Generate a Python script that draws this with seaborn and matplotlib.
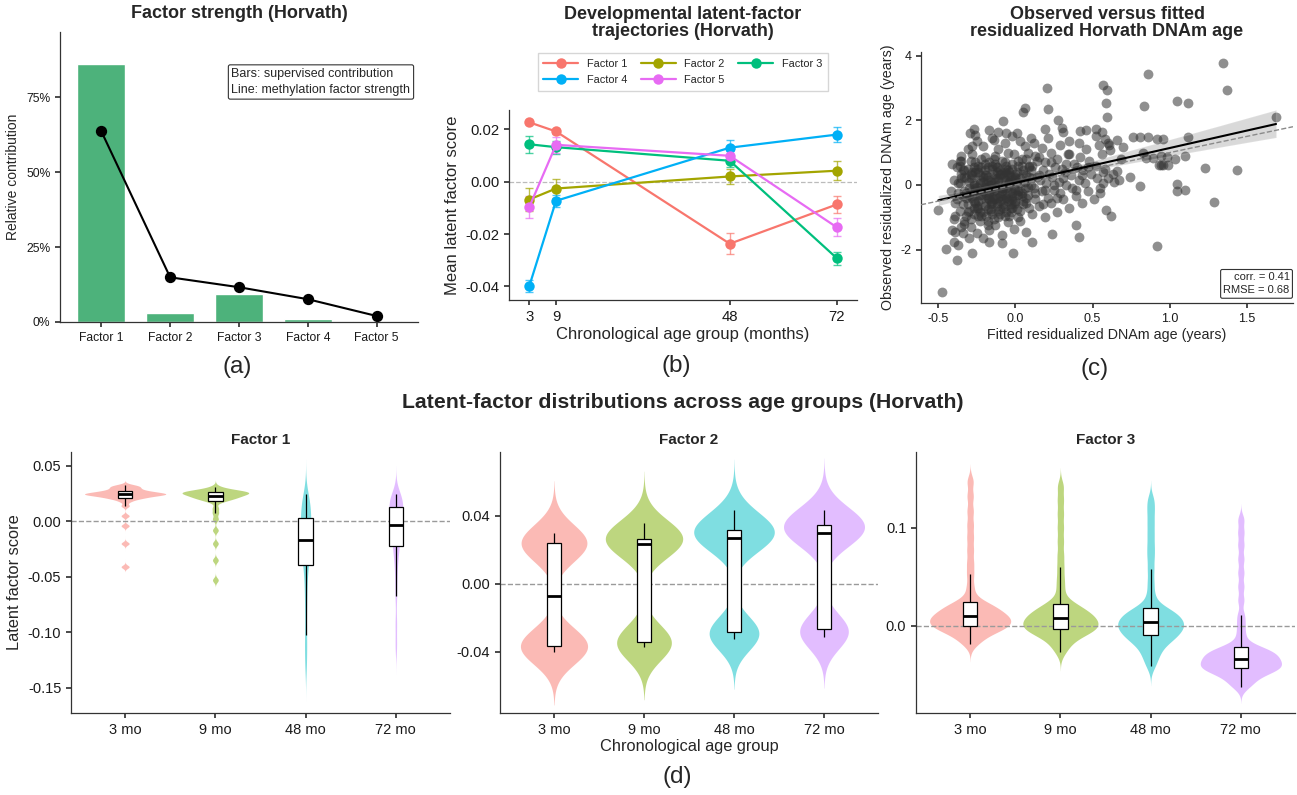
import numpy as np
import pandas as pd
import matplotlib
matplotlib.use("Agg")
import matplotlib.pyplot as plt
from matplotlib.ticker import PercentFormatter, FormatStrFormatter
import seaborn as sns

# ── data ────────────────────────────────────────────────────────────
factor_names = ["Factor 1", "Factor 2", "Factor 3", "Factor 4", "Factor 5"]
supervised_contrib = [0.860, 0.030, 0.093, 0.011, 0.003]   # bars
factor_strength = [0.636, 0.149, 0.116, 0.076, 0.020]       # line

ages = [3, 9, 48, 72]
traj_mean = {
    "Factor 1": [0.0227, 0.0192, -0.0237, -0.0087],
    "Factor 2": [-0.0068, -0.0026, 0.0020, 0.0042],
    "Factor 3": [0.0143, 0.0132, 0.0080, -0.0292],
    "Factor 4": [-0.0399, -0.0073, 0.0130, 0.0180],
    "Factor 5": [-0.0097, 0.0141, 0.0099, -0.0174],
}
traj_se = {
    "Factor 1": [0.0006, 0.0009, 0.0041, 0.0031],
    "Factor 2": [0.0044, 0.0035, 0.0029, 0.0036],
    "Factor 3": [0.0032, 0.0025, 0.0025, 0.0025],
    "Factor 4": [0.0024, 0.0022, 0.0030, 0.0029],
    "Factor 5": [0.0041, 0.0030, 0.0020, 0.0035],
}

# observed vs fitted residualized DNAm age
fitted = [
    -0.475, -0.50, -0.38, -0.447, -0.28, -0.016, 0.11, 0.24, 0.41, 0.39,
    0.205, 0.211, 0.06, 0.05, -0.08, 0.276, 0.567, 0.593, 0.589, 0.593,
    0.859, 1.345, 1.37, 0.837, 1.049, 1.122, 1.69, 0.56, 0.578, 0.658,
    0.70, 0.762, 0.805, 0.863, 0.917, 0.956, 1.118, 0.615, 0.687, 0.826,
    0.848, 0.891, 0.941, 0.941, 0.989, 1.038, 1.097, 1.232, 1.435, 0.58,
    0.63, 0.66, 0.60, 0.67, 0.74, 0.57, 0.64, 0.805, 1.049, 1.097,
    1.049, 0.589, 0.621, 1.29, 0.917, 0.547, 0.93, 0.96, 0.98, 0.60,
    -0.296, -0.27, -0.17, -0.11, -0.14, -0.06, -0.02, 0.03, 0.30, 0.31,
    0.19, 0.42, 0.46, 0.52, 0.52, -0.28, -0.35, -0.36, -0.35, 0.61,
    -0.41, -0.40, -0.39, -0.42, -0.40, -0.38, -0.41, -0.39, -0.40,
    -0.37, -0.35, -0.36, -0.34, -0.37, -0.35, -0.36, -0.34,
    -0.33, -0.31, -0.32, -0.30, -0.33, -0.31, -0.32, -0.30, -0.33,
    -0.29, -0.27, -0.28, -0.26, -0.29, -0.27, -0.28, -0.26, -0.29, -0.27,
    -0.25, -0.23, -0.24, -0.22, -0.25, -0.23, -0.24, -0.22, -0.25, -0.23, -0.24,
    -0.21, -0.19, -0.20, -0.18, -0.21, -0.19, -0.20, -0.18, -0.21, -0.19, -0.20, -0.18,
    -0.17, -0.15, -0.16, -0.14, -0.17, -0.15, -0.16, -0.14, -0.17, -0.15, -0.16, -0.14, -0.17,
    -0.13, -0.11, -0.12, -0.10, -0.13, -0.11, -0.12, -0.10, -0.13, -0.11, -0.12, -0.10, -0.13,
    -0.09, -0.07, -0.08, -0.06, -0.09, -0.07, -0.08, -0.06, -0.09, -0.07, -0.08, -0.06, -0.09,
    -0.05, -0.03, -0.04, -0.02, -0.05, -0.03, -0.04, -0.02, -0.05, -0.03, -0.04,
    -0.01, 0.01, 0.00, 0.02, -0.01, 0.01, 0.00, 0.02, -0.01, 0.01, 0.00,
    0.03, 0.05, 0.04, 0.06, 0.03, 0.05, 0.04, 0.06, 0.03,
    0.07, 0.09, 0.08, 0.10, 0.07, 0.09, 0.08, 0.10, 0.07,
    0.11, 0.13, 0.12, 0.14, 0.11, 0.13, 0.12,
    0.15, 0.17, 0.16, 0.18, 0.15, 0.17,
    0.19, 0.21, 0.20, 0.22, 0.19, 0.21,
    0.23, 0.25, 0.24, 0.26, 0.23,
    0.27, 0.29, 0.28, 0.30, 0.27, 0.29,
    0.31, 0.33, 0.32, 0.34,
    0.35, 0.37, 0.36, 0.38, 0.35,
    0.39, 0.41, 0.40, 0.42,
    0.43, 0.45, 0.44, 0.46,
    0.47, 0.49, 0.48,
    0.51, 0.53, 0.52, 0.54,
    0.55, 0.57, 0.56,
    -0.30, -0.26, -0.22, -0.18, -0.14, -0.10, -0.06, -0.02, 0.02,
    -0.28, -0.24, -0.20, -0.16, -0.12, -0.08, -0.04, 0.00,
    -0.30, -0.26, -0.22, -0.18, -0.14, -0.10, -0.06, -0.02,
    -0.27, -0.23, -0.19, -0.15, -0.11, -0.07, -0.03,
    -0.25, -0.21, -0.17, -0.13, -0.09, -0.05,
    -0.33, -0.29, -0.25, -0.21, -0.17, -0.13, -0.09, -0.05, -0.01, 0.03, 0.07, 0.11,
    -0.31, -0.27, -0.23, -0.19, -0.15, -0.11, -0.07, -0.03, 0.01, 0.05, 0.09, 0.13,
    -0.34, -0.30, -0.26, -0.22, -0.18, -0.14, -0.10, -0.06, -0.02, 0.02, 0.06, 0.10,
    -0.32, -0.28, -0.24, -0.20, -0.16, -0.12, -0.08, -0.04, 0.00, 0.04, 0.15, 0.19,
    0.23, 0.27, 0.31, 0.35, 0.39, 0.43, 0.47, 0.25, 0.33, 0.41, 0.18, 0.14,
    -0.38, -0.35, -0.31, -0.27, -0.23, -0.19, -0.15, -0.11, -0.07, -0.03, 0.01, 0.05,
    -0.36, -0.32, -0.28, -0.24, -0.20, -0.16, -0.12, -0.08, -0.04, 0.00, 0.04, 0.08,
    -0.39, -0.34, -0.29, -0.25, -0.21, -0.17, -0.13, -0.09, -0.05, -0.01, 0.03, 0.07,
    -0.37, -0.33, -0.29, -0.26, -0.22, -0.18, -0.14, -0.10, -0.06, -0.02, 0.02, 0.09,
]
observed = [
    -3.31, -0.76, -2.33, -1.98, -2.10, -2.10, -1.77, -1.53, -1.60, -1.25,
    2.99, 2.35, 2.38, 2.24, 1.98, 2.02, 3.10, 2.92, 2.53, 2.09,
    3.43, 3.78, 2.94, 2.45, 2.58, 2.53, 2.10, 1.65, 1.42, 1.38,
    1.17, 1.47, 1.47, 1.47, 1.42, 1.42, 1.47, 1.07, 0.80, 0.99,
    0.83, 0.83, 0.88, 0.63, 0.63, 0.80, 0.90, 0.52, 0.45, 0.50,
    0.35, 0.42, 0.20, 0.15, 0.25, 0.05, 0.10, -0.02, 0.03, -0.15,
    -0.20, -0.76, -0.97, -0.54, -1.90, -0.25, 0.62, 0.62, 0.85, 1.30,
    1.62, 1.73, 1.70, 1.65, 1.40, 1.60, 1.50, 1.35, 1.76, 1.65,
    1.72, 1.66, 1.70, 1.72, 1.50, 1.20, 0.75, 0.60, 0.90, 1.25,
    -1.40, -1.05, -0.55, -0.20, 0.15, 0.55, 0.65, -1.45, -1.75,
    -1.85, -1.30, -0.80, -0.35, 0.05, 0.35, 0.75, -1.50,
    -1.20, -0.60, -0.25, 0.10, 0.45, 1.10, -0.95, -1.65, 0.25,
    -1.05, -0.70, -0.40, -0.10, 0.20, 0.55, 0.95, 1.55, -1.30, 0.00,
    -1.50, -0.85, -0.50, -0.30, -0.05, 0.15, 0.40, 0.80, 1.35, -1.10, 0.60,
    -1.65, -0.95, -0.65, -0.40, -0.20, 0.05, 0.30, 0.55, 1.20, -0.10, 0.85, -1.25,
    -1.40, -0.90, -0.60, -0.45, -0.25, -0.10, 0.10, 0.35, 0.70, 1.45, -0.75, 0.20, -1.75,
    -1.25, -0.80, -0.55, -0.35, -0.15, 0.00, 0.20, 0.45, 0.90, 1.10, -0.65, 0.30, -0.05,
    -1.55, -0.95, -0.60, -0.40, -0.20, 0.05, 0.25, 0.50, 0.75, 1.30, -0.30, 0.15, -1.80,
    -1.15, -0.70, -0.45, -0.25, -0.05, 0.15, 0.40, 0.65, 1.00, -0.85, 0.30,
    -1.35, -0.75, -0.50, -0.30, -0.10, 0.10, 0.35, 0.60, 0.95, 1.60, -0.15,
    -1.10, -0.60, -0.35, -0.10, 0.20, 0.45, 0.80, 1.20, -0.80,
    -1.45, -0.70, -0.30, 0.00, 0.30, 0.55, 1.00, 1.45, -0.55,
    -0.90, -0.45, -0.10, 0.25, 0.60, 0.90, 1.30,
    -0.65, -0.20, 0.15, 0.45, 0.85, 1.15,
    -1.00, -0.40, 0.05, 0.35, 0.70, 1.45,
    -0.55, -0.15, 0.25, 0.55, 1.00,
    -0.85, -0.25, 0.10, 0.50, 0.80, 1.25,
    -0.45, 0.00, 0.40, 0.95,
    -0.70, -0.10, 0.30, 0.65, 1.35,
    -0.35, 0.15, 0.55, 0.85,
    -0.55, 0.05, 0.45, 1.10,
    -0.20, 0.35, 0.75,
    -0.45, 0.20, 0.60, 1.25,
    -0.10, 0.40, 0.95,
    -0.30, -0.55, -0.15, -0.75, -0.35, -0.50, -0.10, -0.45, -0.20,
    0.30, -0.20, 0.45, 0.00, 0.55, -0.70, 0.05, 0.20,
    -0.80, 0.40, -0.95, 0.15, -1.05, 0.35, -0.85, 0.50,
    -0.50, 0.05, -0.55, 0.60, -0.40, 0.40, -0.60,
    -0.70, 0.25, -0.30, 0.10, -0.10, -0.35,
    -0.20, 0.35, -0.65, 0.10, -0.45, 0.65, -0.25, 0.45, -0.60, 0.05, -0.40, 0.20,
    0.50, -0.90, 0.30, -0.30, 0.50, -1.00, 0.70, -0.15, 0.40, -0.50, 0.60, -0.25,
    -0.60, -0.10, 0.70, -0.45, 0.25, -0.20, -0.75, 0.35, -0.35, 0.75, 0.10, 0.45,
    0.20, -0.35, -0.95, 0.65, -0.80, 0.40, -0.45, -0.95, 0.25, -0.25, 0.30, -0.15,
    0.70, -0.40, 0.20, 0.95, -0.15, 0.30, 0.55, 0.00, 0.65, 1.30, -0.60, 0.75,
    -0.45, 0.20, -0.85, 0.05, -0.30, 0.30, -0.55, 0.15, -0.65, 0.25, -0.30, 0.35,
    0.05, -0.40, 0.40, -0.70, -0.05, -0.50, 0.55, -0.10, 0.10, -0.55, 0.60, -0.05,
    -0.95, 0.45, -0.20, 0.50, -0.85, 0.00, -0.40, 0.35, -0.50, 0.15, -0.20, 0.80,
    -0.25, -1.10, 0.75, -0.15, 0.55, -1.10, 0.80, -0.90, 0.60, -0.70, -1.00, 0.25,
]

# latent-factor scores per age group (approximate samples read from violins/boxes)
age_groups = ["3 mo", "9 mo", "48 mo", "72 mo"]
f1_3mo = [-0.041, -0.020, -0.004, 0.005, 0.014, 0.018, 0.020, 0.021, 0.0215, 0.022,
          0.023, 0.0235, 0.024, 0.024, 0.0243, 0.0245, 0.025, 0.025, 0.0255, 0.026,
          0.026, 0.027, 0.0273, 0.028, 0.029, 0.030, 0.031, 0.032, 0.0325]
f1_9mo = [-0.053, -0.035, -0.020, -0.008, 0.002, 0.0075, 0.012, 0.018, 0.019, 0.020,
          0.021, 0.0215, 0.022, 0.0225, 0.0228, 0.024, 0.0245, 0.025, 0.025, 0.0255,
          0.026, 0.0264, 0.0265, 0.027, 0.027, 0.0275, 0.028, 0.029, 0.031]
f1_48mo = [-0.130, -0.115, -0.103, -0.085, -0.070, -0.058, -0.048, -0.0396, -0.036, -0.032,
           -0.028, -0.024, -0.021, -0.019, -0.0165, -0.014, -0.011, -0.008, -0.005, -0.002,
           0.001, 0.0033, 0.006, 0.009, 0.012, 0.015, 0.018, 0.021, 0.0243]
f1_72mo = [-0.112, -0.092, -0.0673, -0.052, -0.040, -0.032, -0.026, -0.0222, -0.018, -0.014,
           -0.010, -0.007, -0.005, -0.004, -0.003, -0.001, 0.001, 0.003, 0.005, 0.007,
           0.009, 0.0129, 0.015, 0.017, 0.019, 0.020, 0.021, 0.022, 0.0243]

f2_3mo = [-0.0404, -0.040, -0.039, -0.038, -0.037, -0.037, -0.036, -0.035, -0.034, -0.032,
          0.018, 0.020, 0.022, 0.023, 0.0237, 0.024, 0.025, 0.026, 0.028, 0.0296]
f2_9mo = [-0.0376, -0.037, -0.036, -0.035, -0.0345, -0.034, -0.033, -0.031,
          0.019, 0.0225, 0.0237, 0.024, 0.025, 0.026, 0.0265, 0.027, 0.028, 0.030, 0.032, 0.0355]
f2_48mo = [-0.0325, -0.031, -0.030, -0.029, -0.0288, -0.028, -0.026,
           0.021, 0.024, 0.0265, 0.027, 0.028, 0.029, 0.030, 0.0315, 0.032, 0.034, 0.036, 0.039, 0.0437]
f2_72mo = [-0.0312, -0.030, -0.029, -0.028, -0.0275, -0.0265, -0.025,
           0.024, 0.027, 0.0295, 0.0305, 0.031, 0.032, 0.033, 0.0345, 0.035, 0.037, 0.039, 0.041, 0.0437]

f3_3mo = [-0.019, -0.015, -0.012, -0.009, -0.007, -0.005, -0.004, -0.003, -0.002, -0.001,
          -0.0003, 0.001, 0.002, 0.003, 0.004, 0.005, 0.006, 0.007, 0.008, 0.009,
          0.0098, 0.011, 0.012, 0.013, 0.015, 0.016, 0.018, 0.019, 0.021, 0.022,
          0.0237, 0.030, 0.040, 0.0525, 0.064, 0.077, 0.090, 0.103, 0.117, 0.132, 0.147]
f3_9mo = [-0.027, -0.021, -0.017, -0.014, -0.011, -0.009, -0.008, -0.006, -0.005, -0.0045,
          -0.0037, -0.002, -0.001, 0.000, 0.001, 0.002, 0.003, 0.004, 0.005, 0.0065,
          0.0081, 0.009, 0.010, 0.011, 0.012, 0.014, 0.015, 0.017, 0.019, 0.021,
          0.022, 0.028, 0.038, 0.048, 0.0597, 0.072, 0.086, 0.100, 0.114, 0.128, 0.142]
f3_48mo = [-0.041, -0.034, -0.029, -0.025, -0.021, -0.018, -0.016, -0.014, -0.012, -0.011,
           -0.0095, -0.008, -0.006, -0.005, -0.004, -0.002, -0.001, 0.000, 0.001, 0.002,
           0.0034, 0.005, 0.006, 0.007, 0.009, 0.010, 0.012, 0.013, 0.015, 0.016,
           0.0176, 0.023, 0.032, 0.044, 0.0573, 0.070, 0.081, 0.093, 0.105, 0.117, 0.128]
f3_72mo = [-0.063, -0.060, -0.057, -0.054, -0.052, -0.050, -0.048, -0.047, -0.046, -0.045,
           -0.044, -0.0434, -0.0425, -0.042, -0.041, -0.040, -0.039, -0.038, -0.037, -0.036,
           -0.035, -0.034, -0.0336, -0.032, -0.031, -0.030, -0.029, -0.028, -0.027, -0.026,
           -0.025, -0.023, -0.022, -0.0214, -0.015, -0.007, 0.002, 0.011, 0.026, 0.040,
           0.054, 0.068, 0.082, 0.095, 0.108]

# ── style ───────────────────────────────────────────────────────────
W, H = 1297, 795
N_ORIG = 150   # approx. samples per age group in the original data (sets KDE bandwidth)
hue5 = ["#F8766D", "#A3A500", "#00BF7D", "#00B0F6", "#E76BF3"]
hue4 = ["#F8766D", "#7CAE00", "#00BFC4", "#C77CFF"]
AX_COL = "#333333"

sns.set_theme(style="ticks")
plt.rcParams["font.family"] = ["Liberation Sans", "DejaVu Sans"]
plt.rcParams["axes.unicode_minus"] = False
plt.rcParams["axes.edgecolor"] = AX_COL
plt.rcParams["axes.linewidth"] = 0.9
plt.rcParams["xtick.color"] = AX_COL
plt.rcParams["ytick.color"] = AX_COL
plt.rcParams["xtick.labelcolor"] = "#1a1a1a"
plt.rcParams["ytick.labelcolor"] = "#1a1a1a"
plt.rcParams["xtick.major.size"] = 3.5
plt.rcParams["ytick.major.size"] = 3.5


def rect(left, top, right, bottom):
    return [left / W, 1 - bottom / H, (right - left) / W, (bottom - top) / H]


def ftext(x, y, s, **kw):
    fig.text(x / W, 1 - y / H, s, ha="center", va="center", **kw)


def nrd0(kde):
    # ggplot-style rule-of-thumb bandwidth
    x = np.ravel(kde.dataset)
    sd = x.std(ddof=1)
    q1, q3 = np.percentile(x, [25, 75])
    bw = 0.9 * min(sd, (q3 - q1) / 1.34) * N_ORIG ** -0.2
    return bw / sd


fig = plt.figure(figsize=(W / 100, H / 100), dpi=100)

# ── (a) factor strength ────────────────────────────────────────────
ax_a = fig.add_axes(rect(60, 32, 418, 322))
sns.barplot(x=factor_names, y=supervised_contrib, color="#4DB27B", saturation=1,
            width=0.7, ax=ax_a)
sns.pointplot(x=factor_names, y=factor_strength, color="black", errorbar=None,
              markersize=7, linewidth=1.5, ax=ax_a)
ax_a.set_xlim(-0.6, 4.6)
ax_a.set_ylim(0, 0.967)
ax_a.set_yticks([0, 0.25, 0.5, 0.75])
ax_a.yaxis.set_major_formatter(PercentFormatter(xmax=1, decimals=0))
ax_a.tick_params(labelsize=8.7)
ax_a.set_ylabel("Relative contribution", fontsize=10)
ax_a.set_xlabel("")
ax_a.text(0.979, 0.876, "Bars: supervised contribution\nLine: methylation factor strength",
          transform=ax_a.transAxes, ha="right", va="top", multialignment="left",
          fontsize=9, linespacing=1.45,
          bbox=dict(boxstyle="round,pad=0.25,rounding_size=0.15", fc="white", ec=AX_COL, lw=0.8))
sns.despine(ax=ax_a)
ftext(239, 14, "Factor strength (Horvath)", fontsize=13, fontweight="bold")
ftext(237, 367, "(a)", fontsize=17.5)

# ── (b) trajectories ───────────────────────────────────────────────
ax_b = fig.add_axes(rect(509, 110, 857, 300))
traj = pd.DataFrame([
    {"age": a, "score": m, "factor": f}
    for f in factor_names for a, m in zip(ages, traj_mean[f])
])
ax_b.axhline(0, ls="--", color="#bbbbbb", lw=0.9, zorder=0)
for f, c in zip(factor_names, hue5):
    ax_b.errorbar(ages, traj_mean[f], yerr=traj_se[f], fmt="none", ecolor=c,
                  elinewidth=1, capsize=3, alpha=0.7, zorder=1)
sns.lineplot(data=traj, x="age", y="score", hue="factor", hue_order=factor_names,
             palette=hue5, marker="o", markersize=7.5, markeredgewidth=0,
             linewidth=1.6, ax=ax_b)
ax_b.set_xlim(-1.55, 76.55)
ax_b.set_ylim(-0.0452, 0.0274)
ax_b.set_xticks(ages)
ax_b.set_yticks([-0.04, -0.02, 0, 0.02])
ax_b.yaxis.set_major_formatter(FormatStrFormatter("%.2f"))
ax_b.tick_params(labelsize=10.7)
ax_b.set_xlabel("Chronological age group (months)", fontsize=12, labelpad=2)
ax_b.set_ylabel("Mean latent factor score", fontsize=12)
handles, labels = ax_b.get_legend_handles_labels()
order = [0, 3, 1, 4, 2]
ax_b.legend([handles[i] for i in order], [labels[i] for i in order],
            loc="center", bbox_to_anchor=(0.499, 1.2), ncol=3, fontsize=7.9,
            frameon=True, fancybox=False, edgecolor="#cccccc", handlelength=3.2,
            columnspacing=1.2, borderpad=0.5, labelspacing=0.6)
sns.despine(ax=ax_b)
ftext(683, 23, "Developmental latent-factor\ntrajectories (Horvath)", fontsize=13,
      fontweight="bold", linespacing=1.05)
ftext(676, 366, "(b)", fontsize=17.5)

# ── (c) observed vs fitted ─────────────────────────────────────────
ax_c = fig.add_axes(rect(921, 52, 1293, 303))
sns.scatterplot(x=fitted, y=observed, color="#333333", alpha=0.55, s=50,
                linewidth=0, ax=ax_c)
sns.regplot(x=fitted, y=observed, scatter=False, ci=95, color="black",
            line_kws=dict(lw=1.5), ax=ax_c)
ax_c.axline((0, 0), slope=1, ls="--", color="#8a8a8a", lw=1, zorder=4)
ax_c.set_xlim(-0.612, 1.80)
ax_c.set_ylim(-3.65, 4.11)
ax_c.set_xticks([-0.5, 0, 0.5, 1.0, 1.5])
ax_c.xaxis.set_major_formatter(FormatStrFormatter("%.1f"))
ax_c.set_yticks([-2, 0, 2, 4])
ax_c.tick_params(labelsize=9)
ax_c.set_xlabel("Fitted residualized DNAm age (years)", fontsize=10.3, labelpad=2)
ax_c.set_ylabel("Observed residualized DNAm age (years)", fontsize=10.3)
ax_c.text(0.991, 0.03, "corr. = 0.41\nRMSE = 0.68", transform=ax_c.transAxes,
          ha="right", va="bottom", fontsize=8, linespacing=1.4,
          bbox=dict(boxstyle="round,pad=0.25,rounding_size=0.15", fc="white", ec=AX_COL, lw=0.8))
sns.despine(ax=ax_c)
ftext(1107, 23, "Observed versus fitted\nresidualized Horvath DNAm age", fontsize=13,
      fontweight="bold", linespacing=1.05)
ftext(1095, 369, "(c)", fontsize=17.5)

# ── (d) violin + box per factor ───────────────────────────────────
facets = [
    ("Factor 1", [f1_3mo, f1_9mo, f1_48mo, f1_72mo], (-0.173, 0.0626),
     [-0.15, -0.10, -0.05, 0, 0.05], "%.2f", (71, 450)),
    ("Factor 2", [f2_3mo, f2_9mo, f2_48mo, f2_72mo], (-0.0762, 0.0776),
     [-0.04, 0, 0.04], "%.2f", (500, 878)),
    ("Factor 3", [f3_3mo, f3_9mo, f3_48mo, f3_72mo], (-0.089, 0.177),
     [0, 0.1], "%.1f", (916, 1295)),
]
for i, (name, groups, ylim, yticks, fmt, (left, right)) in enumerate(facets):
    ax = fig.add_axes(rect(left, 452, right, 713))
    df = pd.DataFrame({
        "age": [g for g, vals in zip(age_groups, groups) for _ in vals],
        "score": [v for vals in groups for v in vals],
    })
    sns.violinplot(data=df, x="age", y="score", hue="age", order=age_groups,
                   hue_order=age_groups, palette=hue4, inner=None, linewidth=0,
                   cut=3, bw_method=nrd0, gridsize=300, width=0.9,
                   density_norm="area", common_norm=True, saturation=1, alpha=0.5,
                   legend=False, ax=ax)
    ax.axhline(0, ls="--", color="#9a9a9a", lw=1, zorder=1.5)
    sns.boxplot(data=df, x="age", y="score", order=age_groups, width=0.16,
                color="white", linecolor="black", linewidth=0.9, saturation=1,
                showfliers=False, showcaps=False,
                medianprops=dict(linewidth=2), ax=ax)
    ax.set_xlim(-0.6, 3.6)
    ax.set_ylim(*ylim)
    ax.set_yticks(yticks)
    ax.yaxis.set_major_formatter(FormatStrFormatter(fmt))
    ax.tick_params(labelsize=10.5)
    ax.set_title(name, fontsize=11, fontweight="bold", pad=6)
    ax.set_xlabel("Chronological age group" if i == 1 else "", fontsize=11.8, labelpad=2)
    ax.set_ylabel("Latent factor score" if i == 0 else "", fontsize=11.8)
    sns.despine(ax=ax)

ftext(683, 403, "Latent-factor distributions across age groups (Horvath)",
      fontsize=15.3, fontweight="bold")
ftext(677, 777, "(d)", fontsize=17.5)

fig.savefig("out.png", dpi=100)
